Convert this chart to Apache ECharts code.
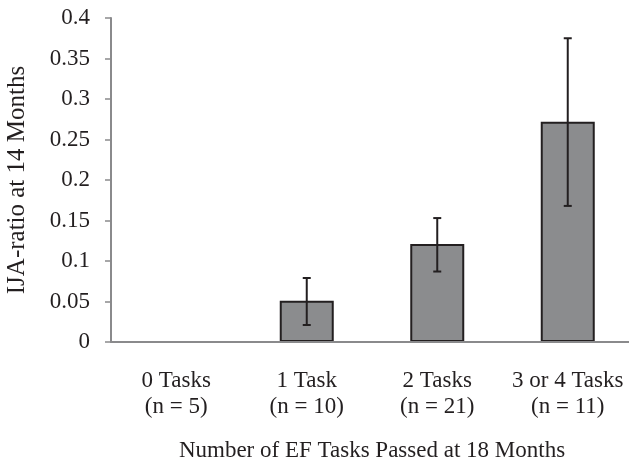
<!DOCTYPE html>
<html>
<head>
<meta charset="utf-8">
<script src="https://cdn.jsdelivr.net/npm/echarts@6/dist/echarts.min.js"></script>
<style>
html,body{margin:0;padding:0;background:#fff;}
#chart{width:629px;height:461px;}
</style>
</head>
<body>
<div id="chart"></div>
<script>
const categories = ['0 Tasks\n(n = 5)', '1 Task\n(n = 10)', '2 Tasks\n(n = 21)', '3 or 4 Tasks\n(n = 11)'];
const values = [0, 0.051, 0.121, 0.272];
const errLow = [null, 0.021, 0.087, 0.168];
const errHigh = [null, 0.079, 0.153, 0.375];
const yTicks = { min: 0, max: 0.4, interval: 0.05 };

const errData = categories.map((c, i) => [i, errLow[i], errHigh[i]]).filter(d => d[1] !== null);

const FONT = 'Liberation Serif';
const TXT = '#231f20';
const FS = 23;

const chart = echarts.init(document.getElementById('chart'), null, { renderer: 'canvas' });
chart.setOption({
  animation: false,
  backgroundColor: '#fff',
  grid: { left: 111, right: -4, top: 18, bottom: 119, containLabel: false, outerBoundsMode: 'none' },
  xAxis: {
    type: 'category',
    data: categories,
    z: 10,
    name: 'Number of EF Tasks Passed at 18 Months',
    nameLocation: 'middle',
    nameGap: 97,
    nameTextStyle: { fontFamily: FONT, fontSize: FS, color: TXT },
    axisLine: { lineStyle: { color: '#8a8a8c', width: 2 } },
    axisTick: { show: false },
    axisLabel: { fontFamily: FONT, fontSize: FS, color: TXT, lineHeight: 26, margin: 26, interval: 0 }
  },
  yAxis: {
    type: 'value',
    min: yTicks.min, max: yTicks.max, interval: yTicks.interval,
    z: 10,
    name: 'IJA-ratio at 14 Months',
    nameLocation: 'middle',
    nameGap: 81,
    nameTextStyle: { fontFamily: FONT, fontSize: 25, color: TXT },
    axisLine: { show: true, lineStyle: { color: '#8a8a8c', width: 2 } },
    axisTick: { show: true, inside: false, length: 6, lineStyle: { color: '#8a8a8c', width: 1.5 } },
    splitLine: { show: false },
    axisLabel: { fontFamily: FONT, fontSize: FS, color: TXT, margin: 21,
      formatter: v => String(Math.round(v * 100) / 100) }
  },
  series: [
    {
      type: 'bar',
      data: values,
      barWidth: 54,
      itemStyle: { color: '#8b8c8e', borderColor: '#231f20', borderWidth: 2 },
      z: 2
    },
    {
      type: 'custom',
      data: errData,
      z: 5,
      renderItem: function (params, api) {
        const x = api.value(0);
        const lo = api.coord([x, api.value(1)]);
        const hi = api.coord([x, api.value(2)]);
        const cw = 4;
        const style = { stroke: '#231f20', lineWidth: 2 };
        return {
          type: 'group',
          children: [
            { type: 'line', shape: { x1: hi[0], y1: hi[1], x2: lo[0], y2: lo[1] }, style: style },
            { type: 'line', shape: { x1: hi[0] - cw, y1: hi[1], x2: hi[0] + cw, y2: hi[1] }, style: style },
            { type: 'line', shape: { x1: lo[0] - cw, y1: lo[1], x2: lo[0] + cw, y2: lo[1] }, style: style }
          ]
        };
      }
    }
  ]
});
</script>
</body>
</html>
